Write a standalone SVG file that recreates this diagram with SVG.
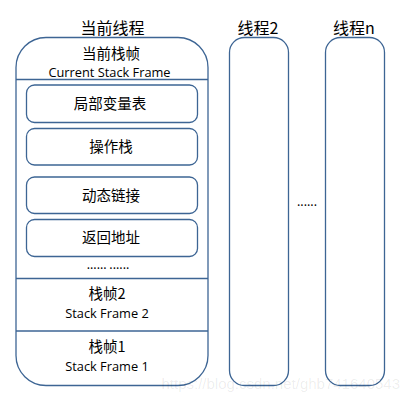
<svg xmlns="http://www.w3.org/2000/svg" width="407" height="403" viewBox="0 0 407 403">
<style>
.box{fill:#fff;stroke:#3d6594;stroke-width:1.3}
.ln{stroke:#3d6594;stroke-width:1.3}
.cn{font-family:"Noto Sans CJK SC","Noto Sans",sans-serif;fill:#000;text-anchor:middle}
.en{font-family:"Open Sans","Liberation Sans",sans-serif;fill:#000;text-anchor:middle;font-size:12.8px}
</style>
<rect width="407" height="403" fill="#fff"/>
<g id="thread-current">
<text class="cn" x="112.5" y="34" font-size="16">当前线程</text>
<rect class="box" x="16" y="37.5" width="192" height="348" rx="30" ry="30"/>
<text class="cn" x="111" y="59" font-size="14.5">当前栈帧</text>
<text class="en" x="109.5" y="77">Current Stack Frame</text>
<line class="ln" x1="16" y1="79.5" x2="208" y2="79.5"/>
<line class="ln" x1="16" y1="278.5" x2="208" y2="278.5"/>
<line class="ln" x1="16" y1="331" x2="208" y2="331"/>
<text class="cn" x="108" y="269" font-size="12">...... ......</text>
<text class="cn" x="107" y="298.5" font-size="14.5">栈帧2</text>
<text class="en" x="107" y="317.5">Stack Frame 2</text>
<text class="cn" x="107" y="352" font-size="14.5">栈帧1</text>
<text class="en" x="107" y="370.5">Stack Frame 1</text>
</g>
<g id="local-vars">
<rect class="box" x="26.5" y="85" width="171" height="37.5" rx="8"/>
<text class="cn" x="110" y="109" font-size="14.5">局部变量表</text>
</g>
<g id="operand-stack">
<rect class="box" x="26.5" y="128.5" width="171" height="36.5" rx="8"/>
<text class="cn" x="111" y="152" font-size="14.5">操作栈</text>
</g>
<g id="dynamic-link">
<rect class="box" x="26.5" y="177" width="171" height="36.5" rx="8"/>
<text class="cn" x="111" y="200.5" font-size="14.5">动态链接</text>
</g>
<g id="return-addr">
<rect class="box" x="26.5" y="219.5" width="171" height="37" rx="8"/>
<text class="cn" x="111" y="243" font-size="14.5">返回地址</text>
</g>
<g id="thread-2">
<text class="cn" x="258" y="34" font-size="16">线程2</text>
<rect class="box" x="229.5" y="37.5" width="59" height="348" rx="15" ry="15"/>
</g>
<g id="thread-n">
<text class="cn" x="354" y="34" font-size="16">线程n</text>
<rect class="box" x="325.5" y="37.5" width="59" height="348" rx="15" ry="15"/>
</g>
<g id="connectors">
<text class="cn" x="307" y="206" font-size="12">......</text>
</g>
<text x="400" y="389" font-family="Liberation Sans,sans-serif" font-size="15" fill="#000" fill-opacity="0.08" text-anchor="end">https://blog.csdn.net/ghb741640543</text>
</svg>
